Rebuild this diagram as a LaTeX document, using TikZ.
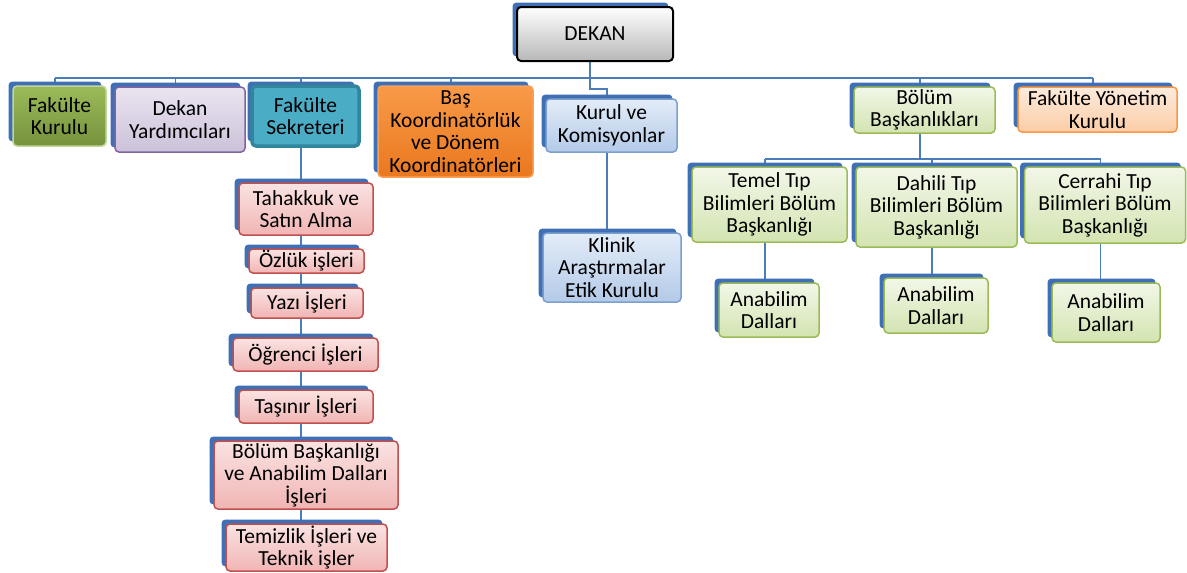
\documentclass[tikz,border=0pt]{standalone}
\usepackage{fontspec}
\setmainfont{Carlito}
\usetikzlibrary{shadows,backgrounds,calc}
\definecolor{lineblue}{HTML}{4A7EBB}
\definecolor{shblue}{HTML}{3F6FB5}
\definecolor{gfillA}{HTML}{9BBB59}
\definecolor{gfillB}{HTML}{76923C}
\definecolor{gdraw}{HTML}{C3D69B}
\definecolor{lavA}{HTML}{EAE5F0}
\definecolor{lavB}{HTML}{CCC1DA}
\definecolor{lavD}{HTML}{8064A2}
\definecolor{tealF}{HTML}{4BACC6}
\definecolor{tealD}{HTML}{31859C}
\definecolor{orA}{HTML}{F99A48}
\definecolor{orB}{HTML}{E9781F}
\definecolor{orD}{HTML}{F9A15A}
\definecolor{lbA}{HTML}{E3ECF8}
\definecolor{lbB}{HTML}{B3CAE8}
\definecolor{lbD}{HTML}{7BA0CD}
\definecolor{lgA}{HTML}{F2F7E8}
\definecolor{lgB}{HTML}{D3E4B1}
\definecolor{lgD}{HTML}{9BBB59}
\definecolor{loA}{HTML}{FDEBDC}
\definecolor{loB}{HTML}{FBCDA6}
\definecolor{loD}{HTML}{F79646}
\definecolor{pkA}{HTML}{FAE3E2}
\definecolor{pkB}{HTML}{F0B5B4}
\definecolor{pkD}{HTML}{C0504D}
\begin{document}
\begin{tikzpicture}[x=1pt,y=-1pt,
  box/.style={rounded corners=4pt, align=center, inner xsep=0pt, inner ysep=0pt,
    font=\fontsize{21.5}{22.5}\selectfont, line width=1.5pt,
    general shadow={fill=shblue, shadow xshift=-4.5pt, shadow yshift=4.5pt}},
  sz/.style 2 args={minimum width=#1pt, minimum height=#2pt},
  graybox/.style={box, top color=white, bottom color=black!28, draw=black, line width=2pt},
  greenbox/.style={box, top color=gfillA, bottom color=gfillB, draw=gdraw},
  lavbox/.style={box, top color=lavA, bottom color=lavB, draw=lavD},
  tealbox/.style={box, fill=tealF, draw=tealD, line width=3.5pt},
  orbox/.style={box, top color=orA, bottom color=orB, draw=orD},
  lbbox/.style={box, top color=lbA, bottom color=lbB, draw=lbD},
  lgbox/.style={box, top color=lgA, bottom color=lgB, draw=lgD},
  lobox/.style={box, top color=loA, bottom color=loB, draw=loD},
  pkbox/.style={box, top color=pkA, bottom color=pkB, draw=pkD},
  conn/.style={draw=lineblue, line width=1.6pt}]
\useasboundingbox (0,0) rectangle (1187,573);
% top
\node[graybox, sz={156}{54}] (dekan) at (595,34) {DEKAN};
\node[greenbox, sz={93}{60}] (fk) at (59.5,116) {Fakülte\\Kurulu};
\node[lavbox, sz={130}{65}] (dy) at (180,119.5) {Dekan\\Yardımcıları};
\node[tealbox, sz={107}{60}] (fs) at (305.5,116) {Fakülte\\Sekreteri};
\node[orbox, sz={155}{91}] (bk) at (455.5,131.5) {Baş\\Koordinatörlük\\ve Dönem\\Koordinatörleri};
\node[lbbox, sz={131}{53}] (kk) at (611.5,125.5) {Kurul ve\\Komisyonlar};
\node[lgbox, sz={141}{46}] (bb) at (924.5,110) {Bölüm\\Başkanlıkları};
\node[lobox, sz={159}{45}] (fyk) at (1097.5,109.5) {Fakülte Yönetim\\Kurulu};
% left column
\node[pkbox, sz={134}{52}] (tah) at (306,209) {Tahakkuk ve\\Satın Alma};
\node[pkbox, sz={115}{24}] (ozl) at (306.5,261) {Özlük işleri};
\node[pkbox, sz={112}{30}] (yaz) at (307,303) {Yazı İşleri};
\node[pkbox, sz={145}{33}] (ogr) at (305.5,354.5) {Öğrenci İşleri};
\node[pkbox, sz={134}{33}] (tas) at (306,406.5) {Taşınır İşleri};
\node[pkbox, sz={184}{68}] (bbi) at (306,475) {Bölüm Başkanlığı\\ve Anabilim Dalları\\İşleri};
\node[pkbox, sz={161}{47}] (tem) at (306.5,547.5) {Temizlik İşleri ve\\Teknik işler};
% middle
\node[lbbox, sz={138}{69}] (kl) at (612,267.5) {Klinik\\Araştırmalar\\Etik Kurulu};
% right
\node[lgbox, sz={155}{75}] (tt) at (769.5,204.5) {Temel Tıp\\Bilimleri Bölüm\\Başkanlığı};
\node[lgbox, sz={161}{80}] (dt) at (936.5,207) {Dahili Tıp\\Bilimleri Bölüm\\Başkanlığı};
\node[lgbox, sz={161}{76}] (ct) at (1105,205) {Cerrahi Tıp\\Bilimleri Bölüm\\Başkanlığı};
\node[lgbox, sz={100}{54}] (a1) at (769,310) {Anabilim\\Dalları};
\node[lgbox, sz={104}{55}] (a2) at (936,305.5) {Anabilim\\Dalları};
\node[lgbox, sz={108}{59}] (a3) at (1106,312.5) {Anabilim\\Dalları};
% connectors
\coordinate (bus) at (0,78);
\coordinate (jog) at (0,89);
\coordinate (sub) at (0,159);
\begin{scope}[on background layer]
\draw[conn] ($(fk.north |- bus)+(-4.5,0)$) -- ($(fyk.north |- bus)+(-4.5,0)$);
\foreach \n in {fk,dy,fs,bk,bb,fyk}
  \draw[conn] ($(\n.north)+(-4.5,0)$) -- ($(\n.north |- bus)+(-4.5,0)$);
\draw[conn] ($(dekan.south)+(-5,0)$) -- ($(dekan.south |- jog)+(-5,0)$)
  -- ($(kk.north |- jog)+(-4.5,0)$) -- ($(kk.north)+(-4.5,0)$);
\draw[conn] ($(kk.south)+(-4.5,0)$) -- ($(kl.north -| kk.south)+(-4.5,0)$);
\draw[conn] ($(fs.south)+(-4.5,0)$) -- ($(tem.north -| fs.south)+(-4.5,0)$);
\draw[conn] ($(bb.south)+(-4.5,0)$) -- ($(bb.south |- sub)+(-4.5,0)$);
\draw[conn] ($(tt.north |- sub)+(-4.5,0)$) -- ($(ct.north |- sub)+(-4.5,0)$);
\foreach \n in {tt,dt,ct}
  \draw[conn] ($(\n.north)+(-4.5,0)$) -- ($(\n.north |- sub)+(-4.5,0)$);
\draw[conn] ($(tt.south)+(-4.5,0)$) -- ($(a1.north -| tt.south)+(-4.5,0)$);
\draw[conn] ($(dt.south)+(-4.5,0)$) -- ($(a2.north -| dt.south)+(-4.5,0)$);
\draw[conn] ($(ct.south)+(-4.5,0)$) -- ($(a3.north -| ct.south)+(-4.5,0)$);
\end{scope}
\end{tikzpicture}
\end{document}
